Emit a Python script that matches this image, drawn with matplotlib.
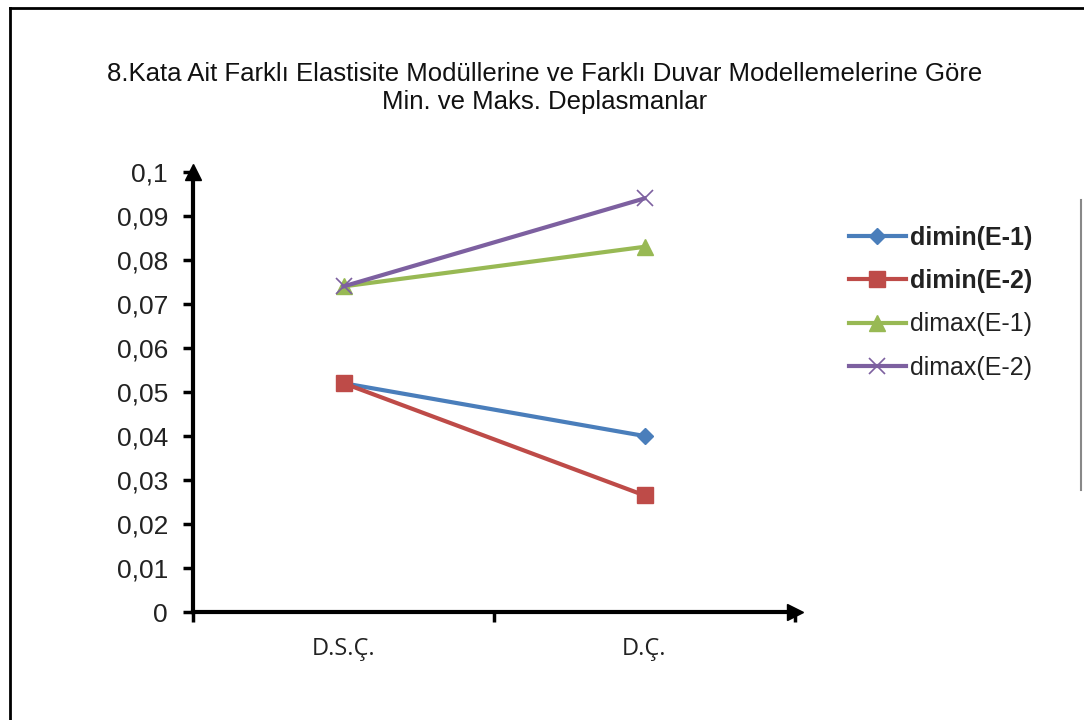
import matplotlib
matplotlib.use("Agg")
import matplotlib.pyplot as plt
from matplotlib.lines import Line2D

categories = ["D.S.Ç.", "D.Ç."]
dimin_e1 = [0.052, 0.040]
dimin_e2 = [0.052, 0.0265]
dimax_e1 = [0.074, 0.083]
dimax_e2 = [0.074, 0.094]
series_names = ["dimin(E-1)", "dimin(E-2)", "dimax(E-1)", "dimax(E-2)"]
yticks = [0, 0.01, 0.02, 0.03, 0.04, 0.05, 0.06, 0.07, 0.08, 0.09, 0.1]
ytick_labels = ["0", "0,01", "0,02", "0,03", "0,04", "0,05", "0,06", "0,07", "0,08", "0,09", "0,1"]
title = "8.Kata Ait Farklı Elastisite Modüllerine ve Farklı Duvar Modellemelerine Göre\nMin. ve Maks. Deplasmanlar"

plt.rcParams['font.family'] = ['Liberation Sans', 'DejaVu Sans']

fig = plt.figure(figsize=(10.84, 7.2), dpi=100)
ax = fig.add_axes([193/1084, 108/720, 602/1084, 440/720])

x = [0.5, 1.5]
styles = [
    dict(color="#4a7ebb", marker="D", markersize=8),
    dict(color="#be4b48", marker="s", markersize=12),
    dict(color="#98b954", marker="^", markersize=12),
    dict(color="#7d60a0", marker="x", markersize=12, markeredgewidth=1.2),
]
data = [dimin_e1, dimin_e2, dimax_e1, dimax_e2]
handles = []
for vals, st, name in zip(data, styles, series_names):
    h, = ax.plot(x, vals, linewidth=3, label=name, clip_on=False, zorder=3, **st)
    handles.append(h)

ax.set_xlim(0, 2)
ax.set_ylim(0, 0.1)
ax.set_yticks(yticks)
ax.set_yticklabels(ytick_labels, fontsize=19, color="#222222")
ax.set_xticks([0, 1, 2])
ax.set_xticklabels([])
ax.set_xticks(x, minor=True)
ax.set_xticklabels(categories, minor=True, fontsize=17, color="#222222",
                   family=['Open Sans', 'DejaVu Sans'])
ax.tick_params(axis='x', which='minor', length=0, pad=18)
ax.tick_params(axis='x', which='major', direction='out', length=7, width=2.5)
ax.tick_params(axis='y', direction='out', length=7, width=2.5, pad=11)

for s in ['top', 'right']:
    ax.spines[s].set_visible(False)
for s in ['left', 'bottom']:
    ax.spines[s].set_linewidth(3)

# axis arrows
ax.plot([0], [0.1], marker="^", color="black", markersize=12, clip_on=False)
ax.plot([2], [0], marker=">", color="black", markersize=12, clip_on=False)

leg = fig.legend(handles=handles, loc="upper left", bbox_to_anchor=(826/1084, 1 - 203/720),
                 frameon=False, handlelength=2.3, labelspacing=0.78, handletextpad=0.15,
                 fontsize=18)
for i, t in enumerate(leg.get_texts()):
    t.set_color("#222222")
    if i < 2:
        t.set_fontweight('bold')

fig.text(545/1084, 1 - 88/720, title, ha="center", va="center", fontsize=18.5, linespacing=1.25,
         color="#111111")

# figure border
fig.add_artist(Line2D([10/1084, 10/1084], [0, 1 - 8/720], color="black", linewidth=2, transform=fig.transFigure))
fig.add_artist(Line2D([10/1084, 1], [1 - 8/720, 1 - 8/720], color="black", linewidth=2, transform=fig.transFigure))
fig.add_artist(Line2D([1081/1084, 1081/1084], [1 - 200/720, 1 - 490/720], color="#888888", linewidth=1.5, transform=fig.transFigure))

fig.savefig("out.png", dpi=100)
